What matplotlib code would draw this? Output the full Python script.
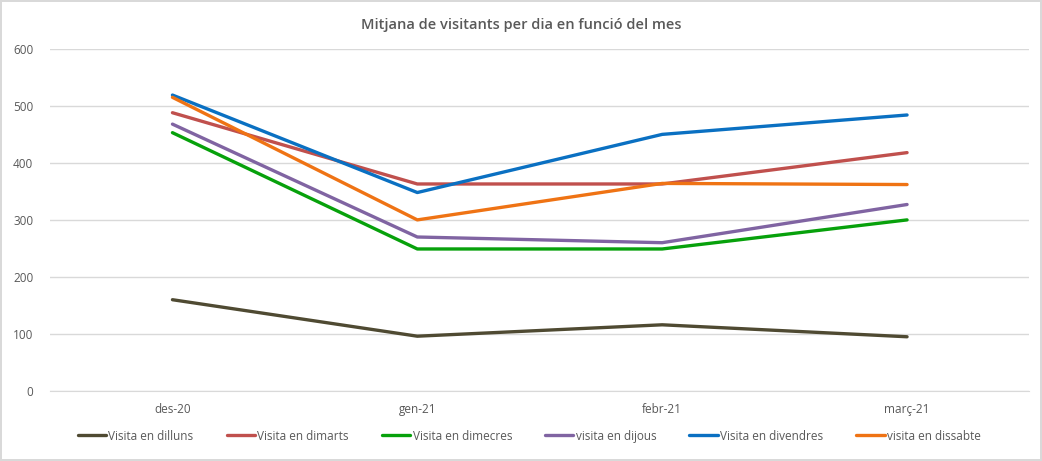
import matplotlib.pyplot as plt

mesos = ["des-20", "gen-21", "febr-21", "març-21"]

dilluns = [160, 96, 116, 95]
dimarts = [488, 363, 363, 418]
dimecres = [453, 249, 249, 300]
dijous = [468, 270, 260, 327]
divendres = [519, 348, 450, 484]
dissabte = [515, 300, 364, 362]

series = [
    ("Visita en dilluns", dilluns, "#4f4a32"),
    ("Visita en dimarts", dimarts, "#c0504d"),
    ("Visita en dimecres", dimecres, "#07a10b"),
    ("visita en dijous", dijous, "#8064a2"),
    ("Visita en divendres", divendres, "#0a70c2"),
    ("visita en dissabte", dissabte, "#ef7314"),
]

plt.rcParams['font.family'] = ['Open Sans', 'DejaVu Sans']
txt = "#595959"

fig = plt.figure(figsize=(10.42, 4.61), dpi=100)
fig.patch.set_edgecolor("#d9d9d9")
fig.patch.set_linewidth(1.5)
ax = fig.add_axes([0.048, 0.152, 0.940, 0.742])

x = list(range(len(mesos)))
for nom, vals, col in series:
    ax.plot(x, vals, color=col, lw=2.4, label=nom, solid_capstyle='round')

ax.set_xlim(-0.5, 3.5)
ax.set_ylim(0, 600)
ax.set_yticks(range(0, 601, 100))
ax.set_xticks(x)
ax.set_xticklabels(mesos)
ax.grid(axis='y', color="#d9d9d9", lw=1)
ax.set_axisbelow(True)
for s in ["top", "right", "left"]:
    ax.spines[s].set_visible(False)
ax.spines["bottom"].set_color("#d9d9d9")
ax.tick_params(length=0, colors=txt, labelsize=8.5)
ax.tick_params(axis='x', pad=9)
ax.tick_params(axis='y', pad=12)

fig.text(0.5, 0.945, "Mitjana de visitants per dia en funció del mes",
         ha='center', va='center', fontsize=10.5, color=txt, fontweight='semibold')

fig.legend(loc='center', bbox_to_anchor=(0.508, 0.054), ncol=6, frameon=False,
           fontsize=8.5, labelcolor=txt, handlelength=2.4, handletextpad=0.2,
           columnspacing=2.8)

fig.savefig("out.png", dpi=100)
